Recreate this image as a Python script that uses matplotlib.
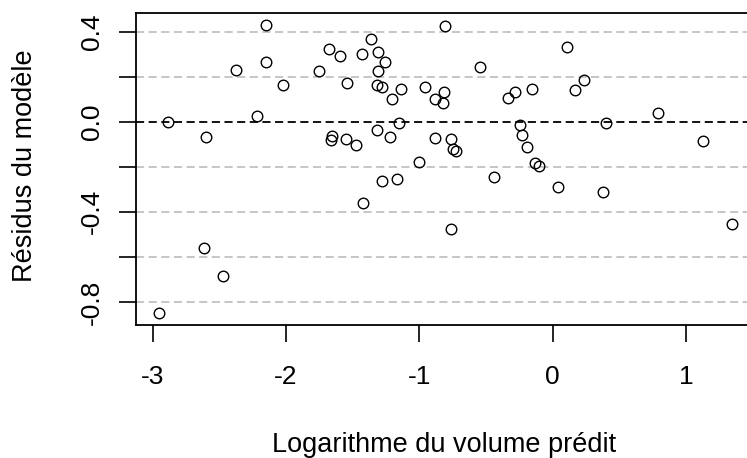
import matplotlib
matplotlib.use("Agg")
import matplotlib.pyplot as plt

plt.rcParams['font.family'] = ['Liberation Sans', 'DejaVu Sans']

# valeurs prédites (log du volume) et résidus du modèle
vol_pred = [-2.152, -1.675, -1.595, -2.373, -2.152, -1.750, -2.023, -2.888,
            -2.218, -2.603, -1.653, -1.663, -0.805, -1.360, -1.428, -1.308,
            -1.258, -1.308, -0.545, -1.540, -1.320, -1.278, -1.140, -1.205,
            -0.958, -0.815, -0.880, -0.825, -0.338, -0.283, -0.155, -1.153,
            -1.553, -1.475, -1.320, -1.218, -0.880, -0.763, -0.750, -0.725,
            -1.000, -0.248, -0.230, -0.193, -0.130, -0.105, 0.105, 0.167,
            0.235, 0.402, 0.792, 1.125, -2.615, -2.475, -2.953, -1.283,
            -1.165, -1.425, -0.440, -0.765, 0.042, 0.380, 1.347]
residus = [0.430, 0.322, 0.290, 0.231, 0.263, 0.223, 0.161, 0.000,
           0.024, -0.068, -0.065, -0.083, 0.423, 0.368, 0.302, 0.309,
           0.267, 0.223, 0.245, 0.172, 0.161, 0.154, 0.146, 0.100,
           0.154, 0.133, 0.102, 0.084, 0.106, 0.134, 0.146, -0.006,
           -0.075, -0.105, -0.038, -0.068, -0.074, -0.077, -0.120, -0.132,
           -0.177, -0.013, -0.061, -0.114, -0.185, -0.198, 0.330, 0.139,
           0.185, -0.006, 0.039, -0.084, -0.560, -0.683, -0.851, -0.262,
           -0.253, -0.361, -0.245, -0.476, -0.291, -0.313, -0.452]

yticks = [-0.8, -0.6, -0.4, -0.2, 0.0, 0.2, 0.4]
ylabels = ['-0.8', '', '-0.4', '', '0.0', '', '0.4']
xticks = [-3, -2, -1, 0, 1]

W, H = 747, 458
fig = plt.figure(figsize=(W / 100, H / 100), dpi=100)

# limites à la R : étendue des données + 4 %
xr = max(vol_pred) - min(vol_pred)
yr = max(residus) - min(residus)
xlim = (min(vol_pred) - 0.04 * xr, max(vol_pred) + 0.04 * xr)
ylim = (min(residus) - 0.04 * yr, max(residus) + 0.04 * yr)

left, right, top, bottom = 136.0, 755.2, 13.3, 325.0
ax = fig.add_axes([left / W, 1 - bottom / H, (right - left) / W, (bottom - top) / H])
ax.set_xlim(xlim)
ax.set_ylim(ylim)

for h in yticks:
    col = 'black' if h == 0 else '#c2c2c2'
    ax.axhline(h, color=col, lw=1.3, dashes=(4.5, 2.5), zorder=1)

ax.plot(vol_pred, residus, 'o', ms=7.6, mfc='none', mec='black', mew=1.0, zorder=3)

ax.set_xticks(xticks)
ax.set_xticklabels([str(t) for t in xticks])
ax.set_yticks(yticks)
ax.set_yticklabels(ylabels, rotation=90, va='center')
ax.tick_params(axis='both', direction='out', length=12, width=1.2, labelsize=19,
               colors='black')
ax.tick_params(axis='x', pad=17)
ax.tick_params(axis='y', pad=11)
for sp in ax.spines.values():
    sp.set_linewidth(1.3)

fig.text(444 / W, 1 - 452.3 / H, 'Logarithme du volume prédit', fontsize=19.5,
         ha='center', va='baseline')
fig.text(32 / W, 1 - 166 / H, 'Résidus du modèle', fontsize=19.5,
         ha='center', va='baseline', rotation=90, rotation_mode='anchor')

fig.savefig('out.png', dpi=100)
